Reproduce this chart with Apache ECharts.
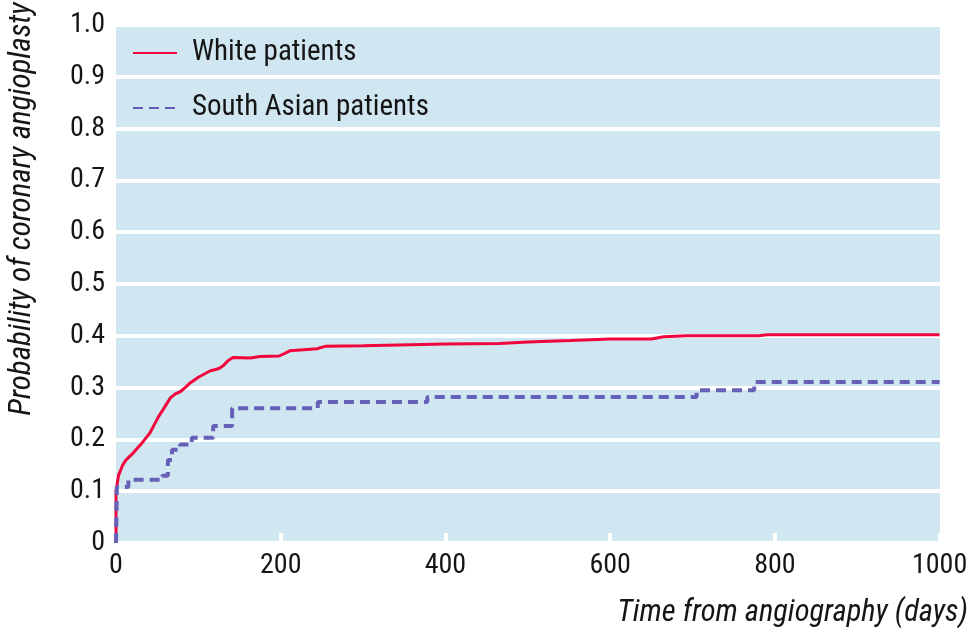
<!DOCTYPE html>
<html>
<head>
<meta charset="utf-8">
<script src="https://cdn.jsdelivr.net/npm/echarts@6/dist/echarts.min.js"></script>
<style>html,body{margin:0;padding:0;background:#fff}#c{width:976px;height:633px}</style>
</head>
<body>
<div id="c"></div>
<script>
var xTicks = [0, 200, 400, 600, 800, 1000];
var yTickLabels = ['0', '0.1', '0.2', '0.3', '0.4', '0.5', '0.6', '0.7', '0.8', '0.9', '1.0'];
var seriesNames = ['White patients', 'South Asian patients'];
var xTitle = 'Time from angiography (days)';
var yTitle = 'Probability of coronary angioplasty';
var whiteDays = [0, 0, 3, 8, 12, 21, 30, 41, 47, 52, 57, 62, 66, 72, 78, 84, 90, 100, 114, 125, 130, 136, 142, 163, 175, 198, 205, 211, 244, 255, 300, 400, 466, 500, 552, 600, 650, 665, 693, 780, 791, 1000];
var whiteProb = [0, 0.10, 0.13, 0.15, 0.16, 0.174, 0.19, 0.212, 0.23, 0.245, 0.257, 0.27, 0.28, 0.288, 0.292, 0.30, 0.309, 0.32, 0.332, 0.337, 0.342, 0.352, 0.358, 0.357, 0.36, 0.361, 0.366, 0.371, 0.375, 0.38, 0.381, 0.384, 0.385, 0.388, 0.391, 0.394, 0.394, 0.398, 0.40, 0.40, 0.402, 0.402];
var asianDays = [0, 1, 15, 56, 63, 68, 78, 92, 118, 141, 245, 378, 705, 775, 1000];
var asianProb = [0, 0.108, 0.122, 0.13, 0.16, 0.18, 0.19, 0.203, 0.226, 0.26, 0.272, 0.282, 0.295, 0.311, 0.311];

function zip(a, b) { return a.map(function (v, i) { return [v, b[i]]; }); }

var FONT = "'Roboto Condensed', 'Roboto', sans-serif";
var TXT = '#151515';
var chart = echarts.init(document.getElementById('c'), null, { renderer: 'canvas' });
chart.setOption({
  animation: false,
  grid: { left: 116, right: 36, top: 25, bottom: 90, show: true, backgroundColor: '#d0e6f1', borderWidth: 0, containLabel: false, outerBoundsMode: 'none' },
  legend: {
    orient: 'vertical', left: 132, top: 38, padding: 0, itemWidth: 44, itemHeight: 14, itemGap: 25,
    itemStyle: { opacity: 0 },
    textStyle: { fontFamily: FONT, fontSize: 29, lineHeight: 30, color: TXT, padding: [0, 0, 0, 10] },
    data: seriesNames
  },
  graphic: [
    { type: 'text', silent: true, rotation: Math.PI / 2, x: 22, y: 209,
      style: { text: yTitle, fontFamily: FONT, fontStyle: 'italic', fontSize: 31, fill: TXT, textAlign: 'center', textVerticalAlign: 'middle' } },
    { type: 'text', silent: true, x: 968, y: 613,
      style: { text: xTitle, fontFamily: FONT, fontStyle: 'italic', fontSize: 30.5, fill: TXT, textAlign: 'right', textVerticalAlign: 'middle' } }
  ],
  xAxis: {
    type: 'value', min: 0, max: 1000.5, interval: 200,
    axisLine: { show: false },
    axisTick: { show: true, inside: true, length: 10, lineStyle: { color: '#fff', width: 4 } },
    splitLine: { show: false },
    axisLabel: { fontFamily: FONT, fontSize: 28, color: TXT, margin: 9, hideOverlap: false,
      formatter: function (v) { return xTicks.indexOf(v) >= 0 ? String(v) : ''; } }
  },
  yAxis: {
    type: 'value', min: 0, max: 1, interval: 0.1,
    axisLine: { show: false }, axisTick: { show: false },
    splitLine: { show: true, lineStyle: { color: '#ffffff', width: 4 } },
    axisLabel: { fontFamily: FONT, fontSize: 28, color: TXT, margin: 11, formatter: function (v) { return yTickLabels[Math.round(v * 10)]; } }
  },
  series: [
    { name: seriesNames[0], type: 'line', symbol: 'none', data: zip(whiteDays, whiteProb),
      lineStyle: { color: '#f0063c', width: 3 }, itemStyle: { color: '#f0063c' } },
    { name: seriesNames[1], type: 'line', symbol: 'none', step: 'end', data: zip(asianDays, asianProb),
      lineStyle: { color: '#6760b8', width: 4, type: [10, 6] }, itemStyle: { color: '#6760b8' } }
  ]
});
</script>
</body>
</html>
